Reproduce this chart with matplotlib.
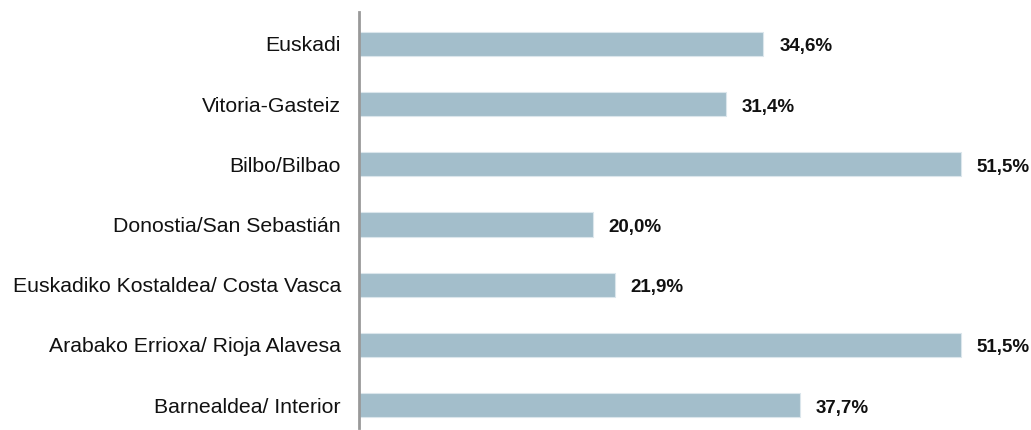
import matplotlib.pyplot as plt

# data
zonas = ['Euskadi', 'Vitoria-Gasteiz', 'Bilbo/Bilbao', 'Donostia/San Sebastián',
         'Euskadiko Kostaldea/ Costa Vasca', 'Arabako Errioxa/ Rioja Alavesa',
         'Barnealdea/ Interior']
valores = [34.6, 31.4, 51.5, 20.0, 21.9, 51.5, 37.7]
etiquetas = ['34,6%', '31,4%', '51,5%', '20,0%', '21,9%', '51,5%', '37,7%']

plt.rcParams['font.family'] = ['Liberation Sans', 'DejaVu Sans']

fig = plt.figure(figsize=(10.31, 4.30), dpi=100)
ax = fig.add_axes([359/1031, 2/430, 1 - 359/1031, 416/430])

pos = list(range(len(zonas)))
ax.barh(pos, valores, height=0.4, color='#a3becb', edgecolor='#dbe6ec', linewidth=0.8)

for p, v, t in zip(pos, valores, etiquetas):
    ax.text(v + 1.35, p + 0.05, t, va='center', ha='left', fontsize=13.5,
            fontweight='bold', color='#111111')

ax.set_yticks(pos)
ax.set_yticklabels(zonas, fontsize=15.3, color='#111111')
ax.tick_params(axis='y', length=0, pad=13)
ax.set_xticks([])
ax.set_xlim(0, 57.5)
ax.set_ylim(6.38, -0.53)

for s in ['top', 'right', 'bottom']:
    ax.spines[s].set_visible(False)
ax.spines['left'].set_color('#999999')
ax.spines['left'].set_linewidth(2)

fig.savefig('out.png', dpi=100)
